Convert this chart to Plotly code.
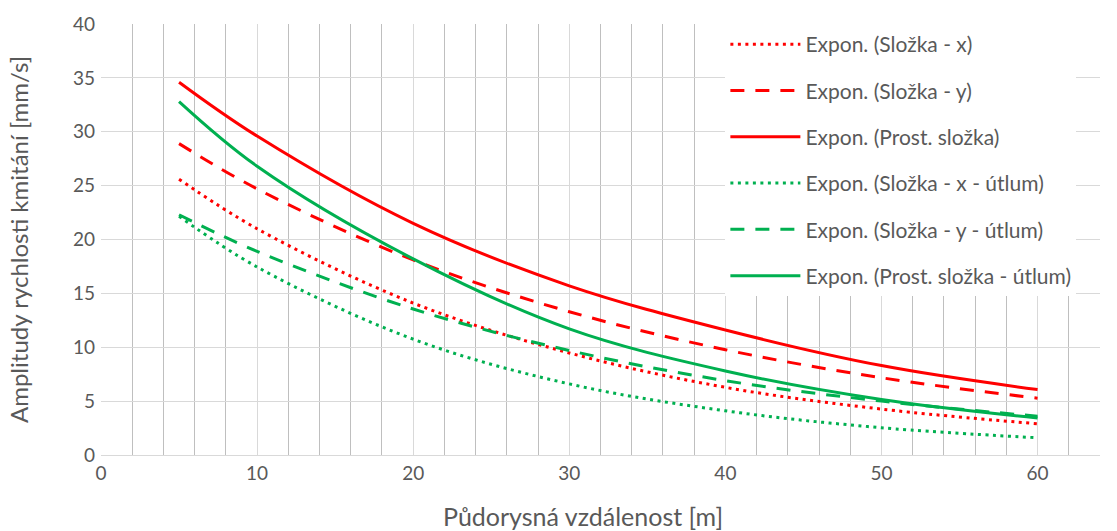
import plotly.graph_objects as go

# Horizontal distance [m] at which the fitted curves were sampled
distance = [5, 10, 20, 30, 40, 50, 60]

# Velocity amplitude [mm/s] of each exponential trend line
slozka_x = [25.6, 21.0, 14.1, 9.47, 6.28, 4.26, 2.9]
slozka_y = [28.9, 24.7, 18.1, 13.3, 9.77, 7.17, 5.27]
prost_slozka = [34.6, 29.6, 21.5, 15.7, 11.6, 8.3, 6.07]
slozka_x_utlum = [22.15, 17.45, 10.75, 6.6, 4.1, 2.53, 1.6]
slozka_y_utlum = [22.3, 18.9, 13.55, 9.7, 6.9, 5.0, 3.6]
prost_slozka_utlum = [32.8, 26.8, 18.2, 11.7, 7.8, 5.15, 3.43]

RED = "#ff0000"
GREEN = "#00b050"
DOT = "3px,4.5px"
DASH = "14px,11px"
TEXT = "#595959"
FONT = "Lato"

series = [
    ("Expon. (Složka - x)", slozka_x, RED, DOT),
    ("Expon. (Složka - y)", slozka_y, RED, DASH),
    ("Expon. (Prost. složka)", prost_slozka, RED, "solid"),
    ("Expon. (Složka - x - útlum)", slozka_x_utlum, GREEN, DOT),
    ("Expon. (Složka - y - útlum)", slozka_y_utlum, GREEN, DASH),
    ("Expon. (Prost. složka - útlum)", prost_slozka_utlum, GREEN, "solid"),
]

fig = go.Figure()
for i, (name, values, color, dash) in enumerate(series):
    fig.add_trace(go.Scatter(
        x=distance, y=values, name=name, mode="lines",
        line=dict(color=color, width=3, dash=dash, shape="spline", smoothing=1.0),
        legendgroup=f"g{i}",
    ))

fig.update_layout(
    width=1117, height=531,
    margin=dict(l=101, r=17, t=20, b=76),
    paper_bgcolor="white", plot_bgcolor="white",
    font=dict(family=FONT, size=19, color=TEXT),
    legend=dict(
        x=0.625, xanchor="left", y=1.0, yanchor="top",
        bgcolor="white", borderwidth=0,
        font=dict(family=FONT, size=21, color=TEXT),
        itemwidth=70, tracegroupgap=16,
        traceorder="grouped",
    ),
    xaxis=dict(
        range=[0, 64], dtick=10, tick0=0,
        showgrid=True, gridcolor="#d9d9d9", gridwidth=1,
        minor=dict(dtick=2, showgrid=True, gridcolor="#bfbfbf", gridwidth=1),
        showline=True, linecolor="#d9d9d9", linewidth=1,
        zeroline=False, ticks="", ticklabelstandoff=1,
        tickfont=dict(size=19, color=TEXT),
    ),
    yaxis=dict(
        range=[0, 40], dtick=5,
        showgrid=True, gridcolor="#d9d9d9", gridwidth=1,
        showline=False, zeroline=False, ticks="", ticklabelstandoff=5,
        title=dict(text="Amplitudy rychlosti kmitání [mm/s]", font=dict(size=24, color=TEXT), standoff=37),
        tickfont=dict(size=19, color=TEXT),
    ),
    annotations=[dict(
        text="Půdorysná vzdálenost [m]", xref="paper", yref="paper",
        x=0.4825, y=-0.1425, xanchor="center", yanchor="middle",
        showarrow=False, font=dict(size=25, color=TEXT),
    )],
)

fig.write_html("out.html")
